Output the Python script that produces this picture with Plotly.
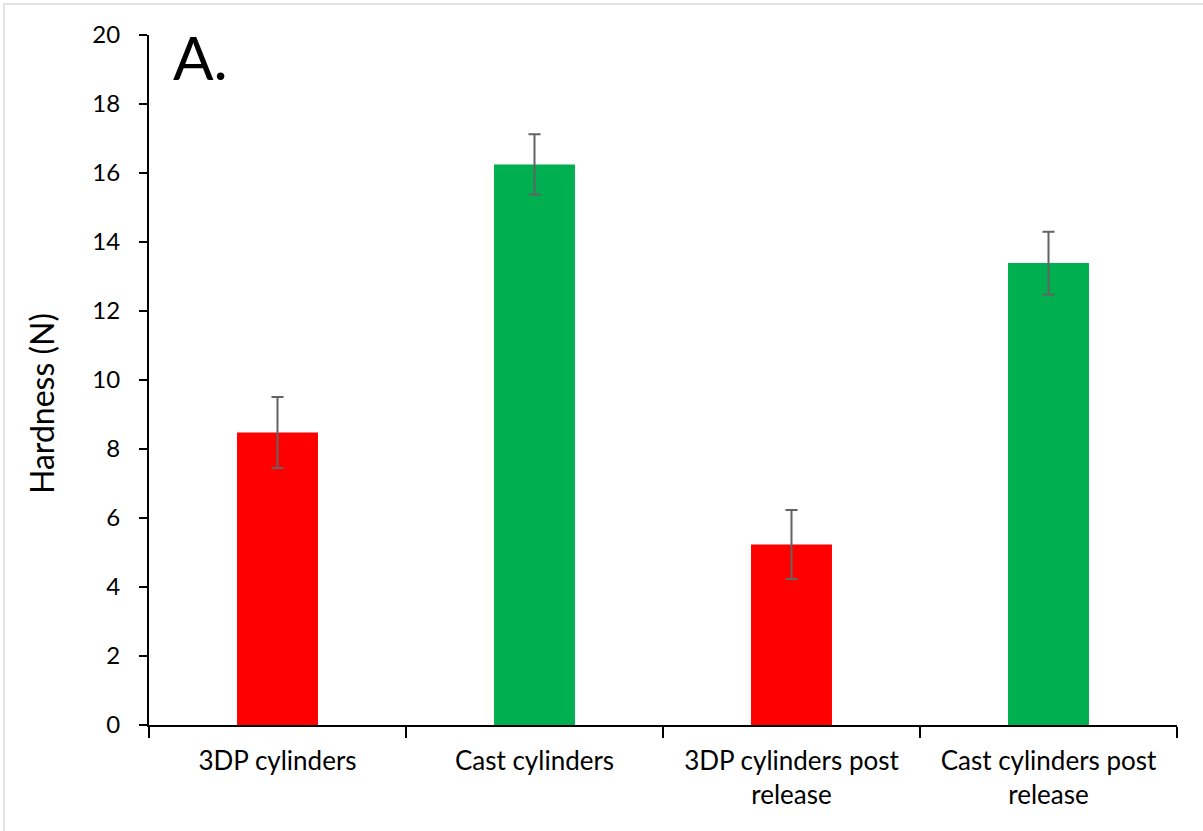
import plotly.graph_objects as go

# Hardness of the cylinders before and after release
categories = ["3DP cylinders", "Cast cylinders",
              "3DP cylinders post<br>release", "Cast cylinders post<br>release"]
hardness = [8.48, 16.25, 5.23, 13.39]
hardness_sd = [1.03, 0.87, 1.0, 0.91]
bar_colors = ["#FF0000", "#00B050", "#FF0000", "#00B050"]
y_ticks = [0, 2, 4, 6, 8, 10, 12, 14, 16, 18, 20]

FONT = "Lato, 'Open Sans', sans-serif"

fig = go.Figure()
fig.add_trace(go.Bar(
    x=categories,
    y=hardness,
    marker=dict(color=bar_colors, line=dict(width=0)),
    error_y=dict(type="data", array=hardness_sd, visible=True,
                 color="#636363", thickness=2, width=6),
    showlegend=False,
))

L, R, T, B = 149, 26, 35, 106
W, H = 1203, 831
pw, ph = W - L - R, H - T - B

fig.update_layout(
    width=W, height=H,
    margin=dict(l=L, r=R, t=T, b=B, pad=0),
    paper_bgcolor="white",
    plot_bgcolor="white",
    bargap=0.685,
    font=dict(family=FONT, color="black"),
    xaxis=dict(
        type="category",
        showline=True, linecolor="black", linewidth=2,
        ticks="outside", tickson="boundaries", ticklen=11, tickwidth=1.5,
        tickcolor="black",
        tickfont=dict(size=26, family=FONT, color="black"),
        ticklabelstandoff=12,
        showgrid=False, zeroline=False,
    ),
    yaxis=dict(
        range=[0, 20],
        tickvals=y_ticks,
        showline=True, linecolor="black", linewidth=2,
        ticks="outside", ticklen=8, tickwidth=1.5, tickcolor="black",
        tickfont=dict(size=24, family=FONT, color="black"),
        ticklabelstandoff=14,
        showgrid=False, zeroline=False,
    ),
)

# Y-axis title
fig.add_annotation(
    text="Hardness (N)", textangle=-90,
    xref="paper", yref="paper",
    x=(41 - L) / pw, y=(T + ph - 404) / ph,
    xanchor="center", yanchor="middle",
    showarrow=False, font=dict(size=32, family=FONT, color="black"),
)

# Panel label
fig.add_annotation(
    text="A.",
    xref="paper", yref="paper",
    x=(171 - L) / pw, y=(T + ph - 57) / ph,
    xanchor="left", yanchor="middle",
    showarrow=False, font=dict(size=60, family=FONT, color="black"),
)

# Light frame around the chart
fig.add_shape(
    type="rect", xref="paper", yref="paper",
    x0=(4 - L) / pw, x1=(W + 10 - L) / pw,
    y0=(T + ph - (H + 10)) / ph, y1=(T + ph - 4) / ph,
    line=dict(color="#d9d9d9", width=1.5), fillcolor="rgba(0,0,0,0)",
    layer="below",
)

fig.write_html("out.html")
